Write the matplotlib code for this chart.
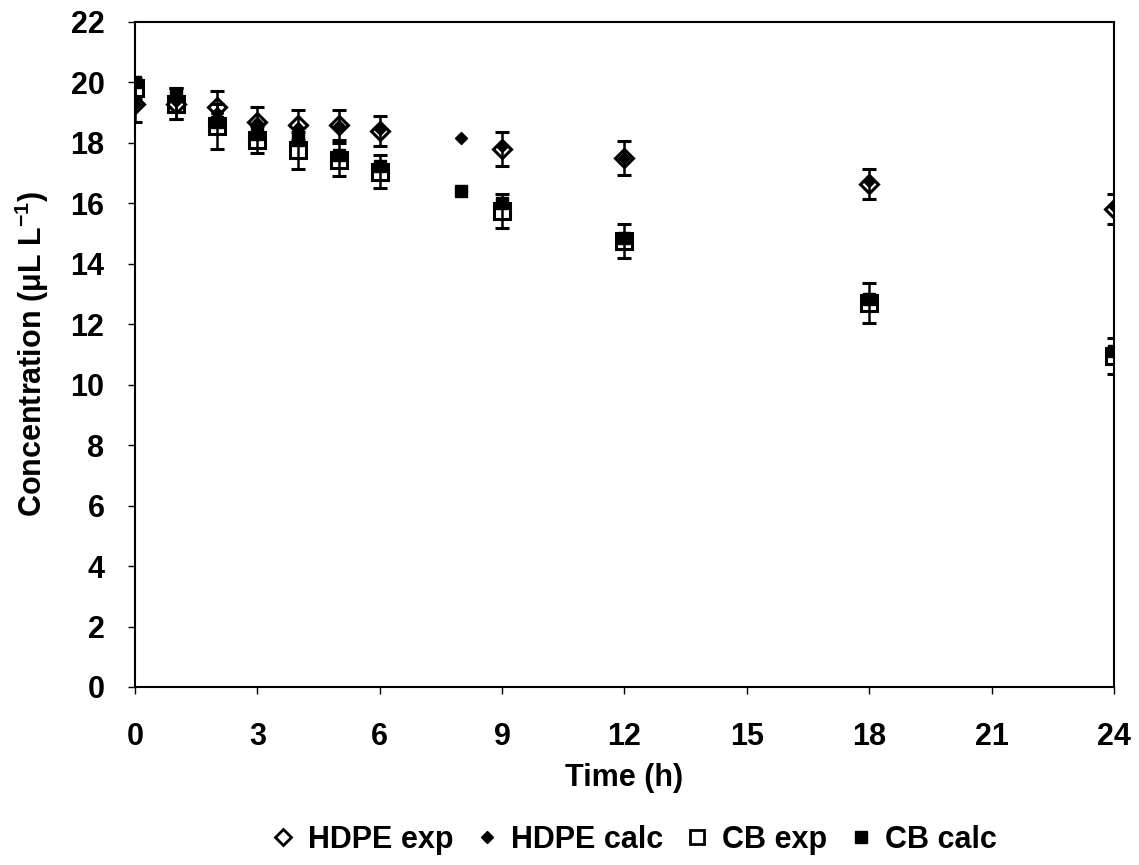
import numpy as np
import matplotlib.pyplot as plt
from matplotlib.lines import Line2D

plt.rcParams['font.family'] = ['Liberation Sans', 'DejaVu Sans']
plt.rcParams['mathtext.fontset'] = 'custom'
plt.rcParams['mathtext.rm'] = 'Liberation Sans:bold'
plt.rcParams['mathtext.default'] = 'rm'

# data
time = [0, 1, 2, 3, 4, 5, 6, 9, 12, 18, 24]
hdpe_exp = [19.3, 19.3, 19.2, 18.7, 18.6, 18.6, 18.4, 17.8, 17.5, 16.65, 15.8]
hdpe_exp_err = [0.6, 0.5, 0.5, 0.5, 0.5, 0.5, 0.5, 0.55, 0.55, 0.5, 0.5]
cb_exp = [19.8, 19.3, 18.55, 18.1, 17.75, 17.45, 17.05, 15.75, 14.75, 12.7, 10.95]
cb_exp_err = [0.3, 0.5, 0.75, 0.45, 0.6, 0.55, 0.55, 0.55, 0.55, 0.65, 0.6]

time_calc = [0, 1, 2, 3, 4, 5, 6, 8, 9, 12, 18, 24]
hdpe_calc = [19.3, 19.4, 19.0, 18.65, 18.5, 18.55, 18.45, 18.15, 17.9, 17.5, 16.75, 15.9]
cb_calc = [20.0, 19.6, 18.7, 18.3, 18.1, 17.6, 17.25, 16.4, 16.0, 14.85, 12.85, 11.1]

fig = plt.figure(figsize=(11.39, 8.65), dpi=100)
ax = fig.add_axes([0.1185, 0.2058, 0.8595, 0.7688])

eb = dict(fmt='none', ecolor='black', elinewidth=1.8, capsize=5, capthick=2.2, zorder=2)
ax.errorbar(time, hdpe_exp, yerr=hdpe_exp_err, **eb)
ax.errorbar(time, cb_exp, yerr=cb_exp_err, **eb)

ax.plot(time_calc, hdpe_calc, 'D', ms=6.5, color='black', ls='none', zorder=3)
ax.plot(time_calc, cb_calc, 's', ms=8.5, color='black', ls='none', zorder=3)
ax.plot(time, hdpe_exp, 'D', ms=9.5, mfc='none', mec='black', mew=2.2, ls='none', zorder=4)
ax.plot(time, cb_exp, 's', ms=11.5, mfc='none', mec='black', mew=2.2, ls='none', zorder=4)

ax.set_xlim(0, 24)
ax.set_ylim(0, 22)
ax.set_xticks(np.arange(0, 25, 3))
ax.set_yticks(np.arange(0, 23, 2))
ax.tick_params(direction='out', length=5, width=1, labelsize=22)
ax.tick_params(axis='y', pad=17)
ax.tick_params(axis='x', pad=20)
for lbl in ax.get_xticklabels() + ax.get_yticklabels():
    lbl.set_fontweight('bold')
for s in ax.spines.values():
    s.set_linewidth(1.5)

ax.set_xlabel('Time (h)', fontsize=22, fontweight='bold', labelpad=8)
ax.set_ylabel('Concentration (μL L$^{-1}$)', fontsize=22, fontweight='bold', labelpad=14)

handles = [
    Line2D([], [], marker='D', ms=8, mfc='white', mec='black', mew=2, ls='none'),
    Line2D([], [], marker='D', ms=6.5, color='black', ls='none'),
    Line2D([], [], marker='s', ms=10, mfc='white', mec='black', mew=2, ls='none'),
    Line2D([], [], marker='s', ms=8, color='black', ls='none'),
]
labels = ['HDPE exp', 'HDPE calc', 'CB exp', 'CB calc']
leg = fig.legend(handles, labels, loc='center', bbox_to_anchor=(0.558, 0.029), ncol=4,
                 frameon=False, handlelength=0.6, handletextpad=0.5, columnspacing=0.8,
                 prop={'size': 22, 'weight': 'bold'})

fig.savefig('out.png', dpi=100)
